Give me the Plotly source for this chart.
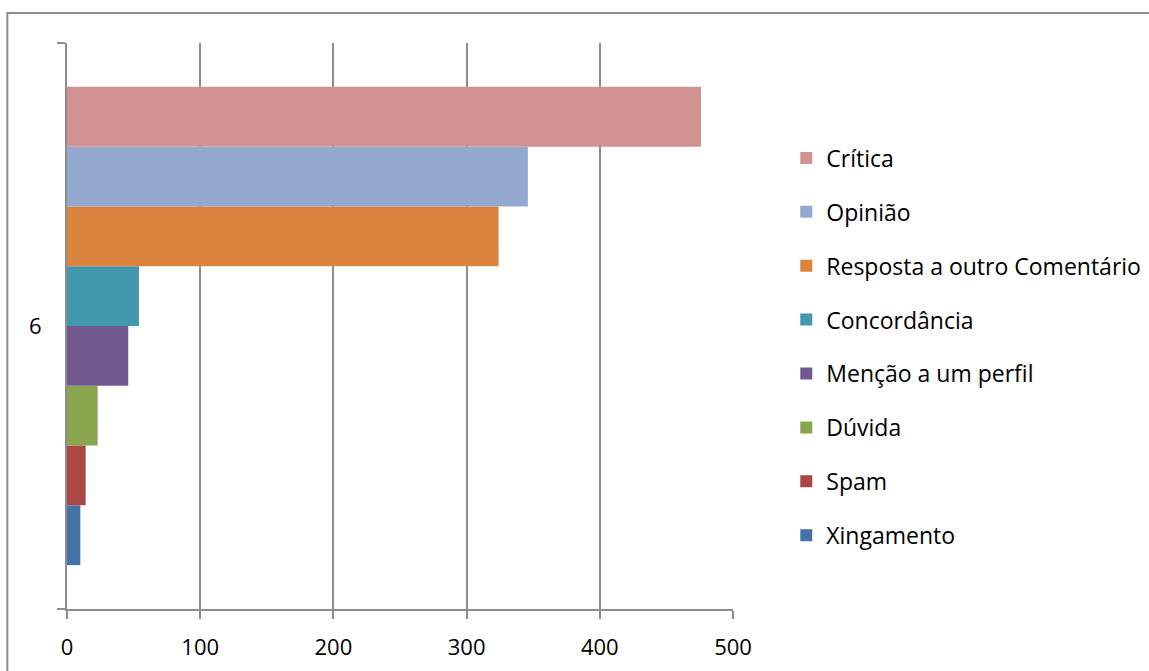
import plotly.graph_objects as go

# Comment types counted for group "6" (bottom to top in the chart)
category = ["6"]
series_names = ["Xingamento", "Spam", "Dúvida", "Menção a um perfil", "Concordância",
                "Resposta a outro Comentário", "Opinião", "Crítica"]
series_values = [10, 14, 23, 46, 54, 324, 346, 476]
series_colors = ["#4572A7", "#AA4643", "#89A54E", "#71588F", "#4198AF",
                 "#DB843D", "#93A9CF", "#D19392"]
x_ticks = [0, 100, 200, 300, 400, 500]

FONT = "Open Sans"
GRID = "#8C8C8C"

fig = go.Figure()
n = len(series_names)
for i, (name, val, col) in enumerate(zip(series_names, series_values, series_colors)):
    fig.add_trace(go.Bar(
        y=category, x=[val], name=name, orientation="h",
        marker=dict(color=col, line=dict(width=0)),
        legendgroup=name, legendrank=n - i,
    ))

fig.update_layout(
    width=1149, height=671,
    margin=dict(l=67, r=416, t=43, b=62, autoexpand=False),
    paper_bgcolor="white", plot_bgcolor="white",
    barmode="group", bargap=0.155, bargroupgap=0,
    font=dict(family=FONT, size=20, color="#000000"),
    legend=dict(
        x=1.08, xanchor="left", y=0.463, yanchor="middle",
        traceorder="grouped", tracegroupgap=21,
        font=dict(family=FONT, size=23, color="#000000"),
        itemwidth=30,
    ),
    xaxis=dict(
        range=[0, 500], tickvals=x_ticks, ticktext=[str(v) for v in x_ticks],
        showgrid=True, gridcolor=GRID, gridwidth=2,
        showline=True, linecolor=GRID, linewidth=2,
        ticks="outside", ticklen=8, tickcolor=GRID, tickwidth=2,
        zeroline=False, tickfont=dict(size=22), ticklabelstandoff=10,
    ),
    yaxis=dict(
        type="category", tickson="boundaries",
        showline=True, linecolor=GRID, linewidth=2,
        ticks="outside", ticklen=8, tickcolor=GRID, tickwidth=2,
        showgrid=False, zeroline=False, tickfont=dict(size=22),
        ticklabelstandoff=19,
    ),
    shapes=[dict(
        type="rect", xref="paper", yref="paper",
        x0=-0.0896, x1=1.8, y0=-0.3, y1=1.053,
        line=dict(color=GRID, width=2), fillcolor="rgba(0,0,0,0)", layer="below",
    )],
)

fig.write_html("out.html")
